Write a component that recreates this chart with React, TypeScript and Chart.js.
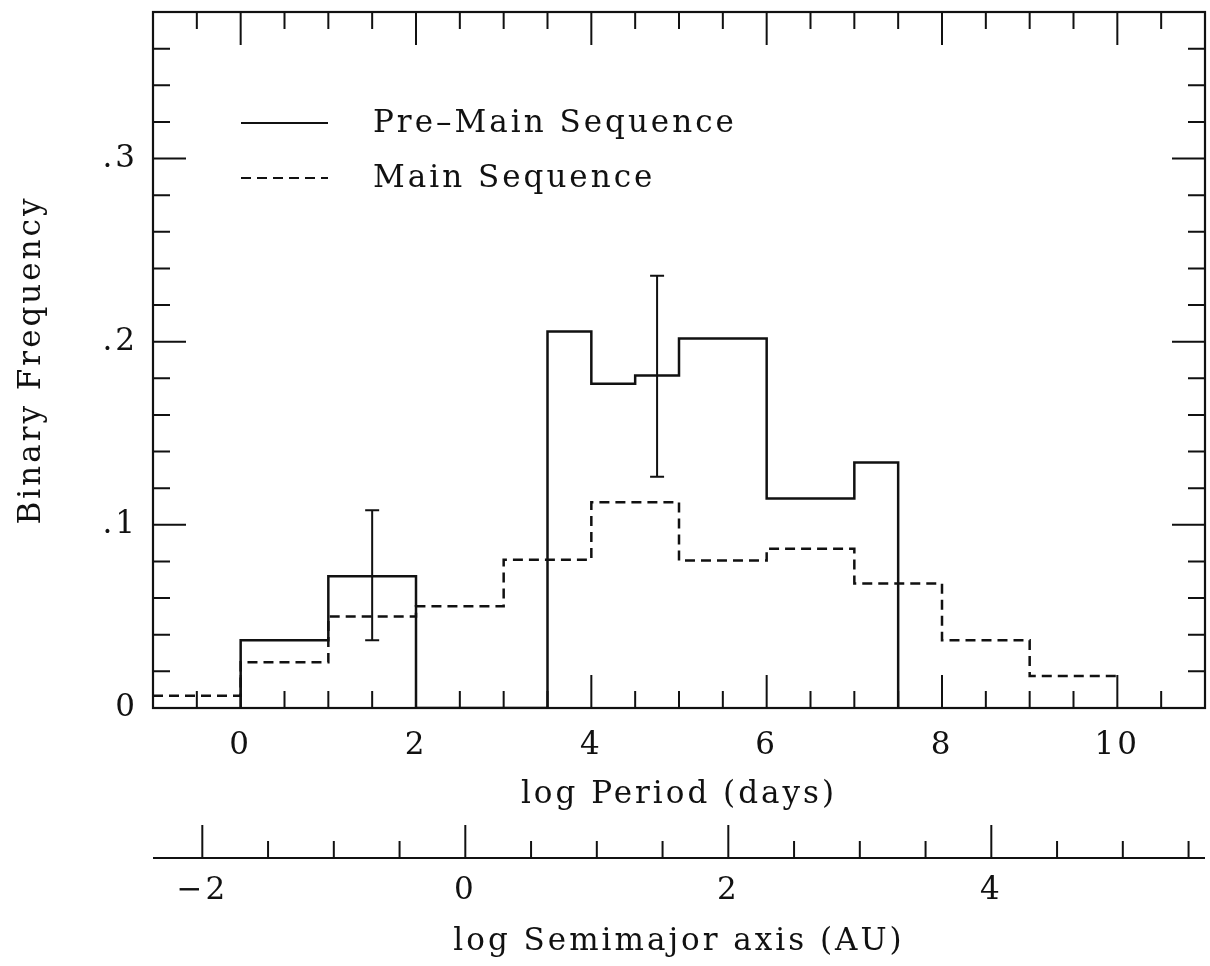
import React, { useEffect, useRef } from "react";
import { Chart, registerables } from "chart.js";

Chart.register(...registerables);

// ---- data ----
const pmsEdges = [0, 1, 2, 3.5, 4, 4.5, 5, 6, 7, 7.5];
const pmsValues = [0.037, 0.072, 0, 0.2055, 0.177, 0.1815, 0.2017, 0.1144, 0.134];
const msEdges = [-1, 0, 1, 2, 3, 4, 5, 6, 7, 8, 9, 10];
const msValues = [0.0067, 0.025, 0.05, 0.0556, 0.081, 0.1124, 0.0805, 0.087, 0.068, 0.037, 0.0175];
const errX = [1.5, 4.75];
const errLow = [0.037, 0.1263];
const errHigh = [0.108, 0.236];
const seriesNames = ["Pre\u2013Main Sequence", "Main Sequence"];
const periodTicks = [0, 2, 4, 6, 8, 10];
const axisTicks = [-2, 0, 2, 4];
const freqTicks = [0, 0.1, 0.2, 0.3];
const freqLabels = ["0", ".1", ".2", ".3"];
const periodRange = [-1, 11];
const axisRange = [-2.375, 5.625];
const freqRange = [0, 0.38];
const periodMinorStep = 0.5;
const axisMinorStep = 0.5;
const freqMinorStep = 0.02;

function binsToPoints(edges: number[], values: number[], closeToZero: boolean) {
  const pts: { x: number; y: number }[] = [];
  if (closeToZero) pts.push({ x: edges[0], y: 0 });
  values.forEach((v, i) => {
    pts.push({ x: edges[i], y: v });
    pts.push({ x: edges[i + 1], y: v });
  });
  if (closeToZero) pts.push({ x: edges[edges.length - 1], y: 0 });
  return pts;
}

function fmtNum(v: number) {
  return v < 0 ? "\u2212" + Math.abs(v) : String(v);
}

export default function App() {
  const ref = useRef<HTMLCanvasElement>(null);

  useEffect(() => {
    document.body.style.margin = "0";
    const canvas = ref.current!;
    const FONT = "'DejaVu Serif', 'Liberation Serif', serif";
    const ink = "#111111";
    const font = { family: FONT, size: 31 };
    const SPACING = "3px";

    const spacingPlugin = {
      id: "spacing",
      beforeUpdate(chart: any) {
        chart.ctx.letterSpacing = SPACING;
      },
      beforeLayout(chart: any) {
        chart.ctx.letterSpacing = SPACING;
      },
      beforeDraw(chart: any) {
        chart.ctx.letterSpacing = SPACING;
      },
    };

    const decor = {
      id: "decor",
      afterDatasetsDraw(chart: any) {
        const ctx = chart.ctx as CanvasRenderingContext2D;
        const { left, right, top, bottom } = chart.chartArea;
        const xs = chart.scales.x;
        const ys = chart.scales.y;
        const x2 = chart.scales.x2;
        ctx.save();
        ctx.strokeStyle = ink;
        ctx.lineCap = "butt";

        // frame
        ctx.lineWidth = 2.2;
        ctx.strokeRect(left, top, right - left, bottom - top);

        ctx.lineWidth = 2;
        // x ticks (top & bottom, inward)
        const nx = Math.round((periodRange[1] - periodRange[0]) / periodMinorStep);
        for (let i = 1; i < nx; i++) {
          const v = periodRange[0] + i * periodMinorStep;
          const major = Math.abs(v / 2 - Math.round(v / 2)) < 1e-6;
          const len = major ? 33 : 17;
          const px = xs.getPixelForValue(v);
          ctx.beginPath();
          ctx.moveTo(px, bottom);
          ctx.lineTo(px, bottom - len);
          ctx.moveTo(px, top);
          ctx.lineTo(px, top + len);
          ctx.stroke();
        }
        // y ticks (left & right, inward)
        const ny = Math.floor((freqRange[1] - freqRange[0]) / freqMinorStep + 1e-6);
        for (let i = 1; i <= ny; i++) {
          const v = freqRange[0] + i * freqMinorStep;
          const major = Math.abs(v * 10 - Math.round(v * 10)) < 1e-6;
          const len = major ? 33 : 17;
          const py = ys.getPixelForValue(v);
          ctx.beginPath();
          ctx.moveTo(left, py);
          ctx.lineTo(left + len, py);
          ctx.moveTo(right, py);
          ctx.lineTo(right - len, py);
          ctx.stroke();
        }

        // secondary axis line + upward ticks
        const ay = x2.top;
        ctx.beginPath();
        ctx.moveTo(x2.left, ay);
        ctx.lineTo(x2.right, ay);
        ctx.stroke();
        const start = Math.ceil(axisRange[0] / axisMinorStep) * axisMinorStep;
        for (let v = start; v <= axisRange[1] + 1e-9; v += axisMinorStep) {
          const major = Math.abs(v / 2 - Math.round(v / 2)) < 1e-6;
          const len = major ? 33 : 17;
          const px = x2.getPixelForValue(v);
          ctx.beginPath();
          ctx.moveTo(px, ay);
          ctx.lineTo(px, ay - len);
          ctx.stroke();
        }

        // error bars
        ctx.lineWidth = 2;
        errX.forEach((xv, i) => {
          const px = xs.getPixelForValue(xv);
          const pl = ys.getPixelForValue(errLow[i]);
          const ph = ys.getPixelForValue(errHigh[i]);
          ctx.beginPath();
          ctx.moveTo(px, pl);
          ctx.lineTo(px, ph);
          ctx.moveTo(px - 7, pl);
          ctx.lineTo(px + 7, pl);
          ctx.moveTo(px - 7, ph);
          ctx.lineTo(px + 7, ph);
          ctx.stroke();
        });

        // legend
        const lx0 = left + 88;
        const lx1 = left + 175;
        const tx = left + 220;
        const rows = [top + 111, top + 166];
        ctx.font = `${font.size}px ${FONT}`;
        (ctx as any).letterSpacing = SPACING;
        ctx.fillStyle = ink;
        ctx.textBaseline = "middle";
        ctx.textAlign = "left";
        chart.data.datasets.forEach((ds: any, i: number) => {
          ctx.lineWidth = 2.2;
          ctx.setLineDash(ds.borderDash || []);
          ctx.beginPath();
          ctx.moveTo(lx0, rows[i]);
          ctx.lineTo(lx1, rows[i]);
          ctx.stroke();
          ctx.setLineDash([]);
          ctx.fillText(ds.label, tx, rows[i] + 1);
        });
        ctx.restore();
      },
    };

    const chart = new Chart(canvas, {
      type: "line",
      data: {
        datasets: [
          {
            label: seriesNames[0],
            data: binsToPoints(pmsEdges, pmsValues, true),
            borderColor: ink,
            borderWidth: 2.5,
            pointRadius: 0,
            fill: false,
            tension: 0,
            xAxisID: "x",
            yAxisID: "y",
          },
          {
            label: seriesNames[1],
            data: binsToPoints(msEdges, msValues, false),
            borderColor: ink,
            borderWidth: 2.5,
            borderDash: [10, 6],
            pointRadius: 0,
            fill: false,
            tension: 0,
            xAxisID: "x",
            yAxisID: "y",
          },
        ],
      },
      options: {
        animation: false,
        responsive: false,
        devicePixelRatio: 1,
        layout: { padding: { top: 12, right: 5, left: 0, bottom: 0 } },
        plugins: { legend: { display: false }, tooltip: { enabled: false } },
        scales: {
          x: {
            type: "linear",
            position: "bottom",
            min: periodRange[0],
            max: periodRange[1],
            grid: { display: false, drawTicks: false },
            border: { display: false },
            afterBuildTicks: (s: any) => {
              s.ticks = periodTicks.map((v) => ({ value: v }));
            },
            afterFit: (s: any) => {
              s.height = 150;
              s.paddingLeft = 0;
              s.paddingRight = 0;
            },
            ticks: {
              font,
              color: ink,
              padding: 19,
              maxRotation: 0,
              autoSkip: false,
              callback: (v: any) => fmtNum(Number(v)),
            },
            title: {
              display: true,
              text: "log Period (days)",
              font,
              color: ink,
              padding: { top: 0, bottom: 44 },
            },
          },
          x2: {
            type: "linear",
            position: "bottom",
            min: axisRange[0],
            max: axisRange[1],
            grid: { display: false, drawTicks: false },
            border: { display: false },
            afterBuildTicks: (s: any) => {
              s.ticks = axisTicks.map((v) => ({ value: v }));
            },
            afterFit: (s: any) => {
              s.height = 108;
              s.paddingLeft = 0;
              s.paddingRight = 0;
            },
            ticks: {
              font,
              color: ink,
              padding: 14,
              maxRotation: 0,
              autoSkip: false,
              callback: (v: any) => fmtNum(Number(v)),
            },
            title: {
              display: true,
              text: "log Semimajor axis (AU)",
              font,
              color: ink,
              padding: { top: 0, bottom: 5 },
            },
          },
          y: {
            type: "linear",
            position: "left",
            min: freqRange[0],
            max: freqRange[1],
            grid: { display: false, drawTicks: false },
            border: { display: false },
            afterBuildTicks: (s: any) => {
              s.ticks = freqTicks.map((v) => ({ value: v }));
            },
            afterFit: (s: any) => {
              s.width = 153;
              s.paddingTop = 0;
              s.paddingBottom = 0;
            },
            ticks: {
              font,
              color: ink,
              padding: 15,
              autoSkip: false,
              callback: (v: any) => {
                const i = freqTicks.findIndex((t) => Math.abs(t - Number(v)) < 1e-9);
                return freqLabels[i];
              },
            },
            title: {
              display: true,
              text: "Binary Frequency",
              font,
              color: ink,
              padding: { top: 13, bottom: 0 },
            },
          },
        },
      },
      plugins: [spacingPlugin, decor],
    } as any);

    return () => chart.destroy();
  }, []);

  return (
    <div style={{ position: "absolute", left: 0, top: 0, width: 1210, height: 966, background: "#fff" }}>
      <canvas ref={ref} width={1210} height={966} style={{ display: "block", width: 1210, height: 966 }} />
    </div>
  );
}
